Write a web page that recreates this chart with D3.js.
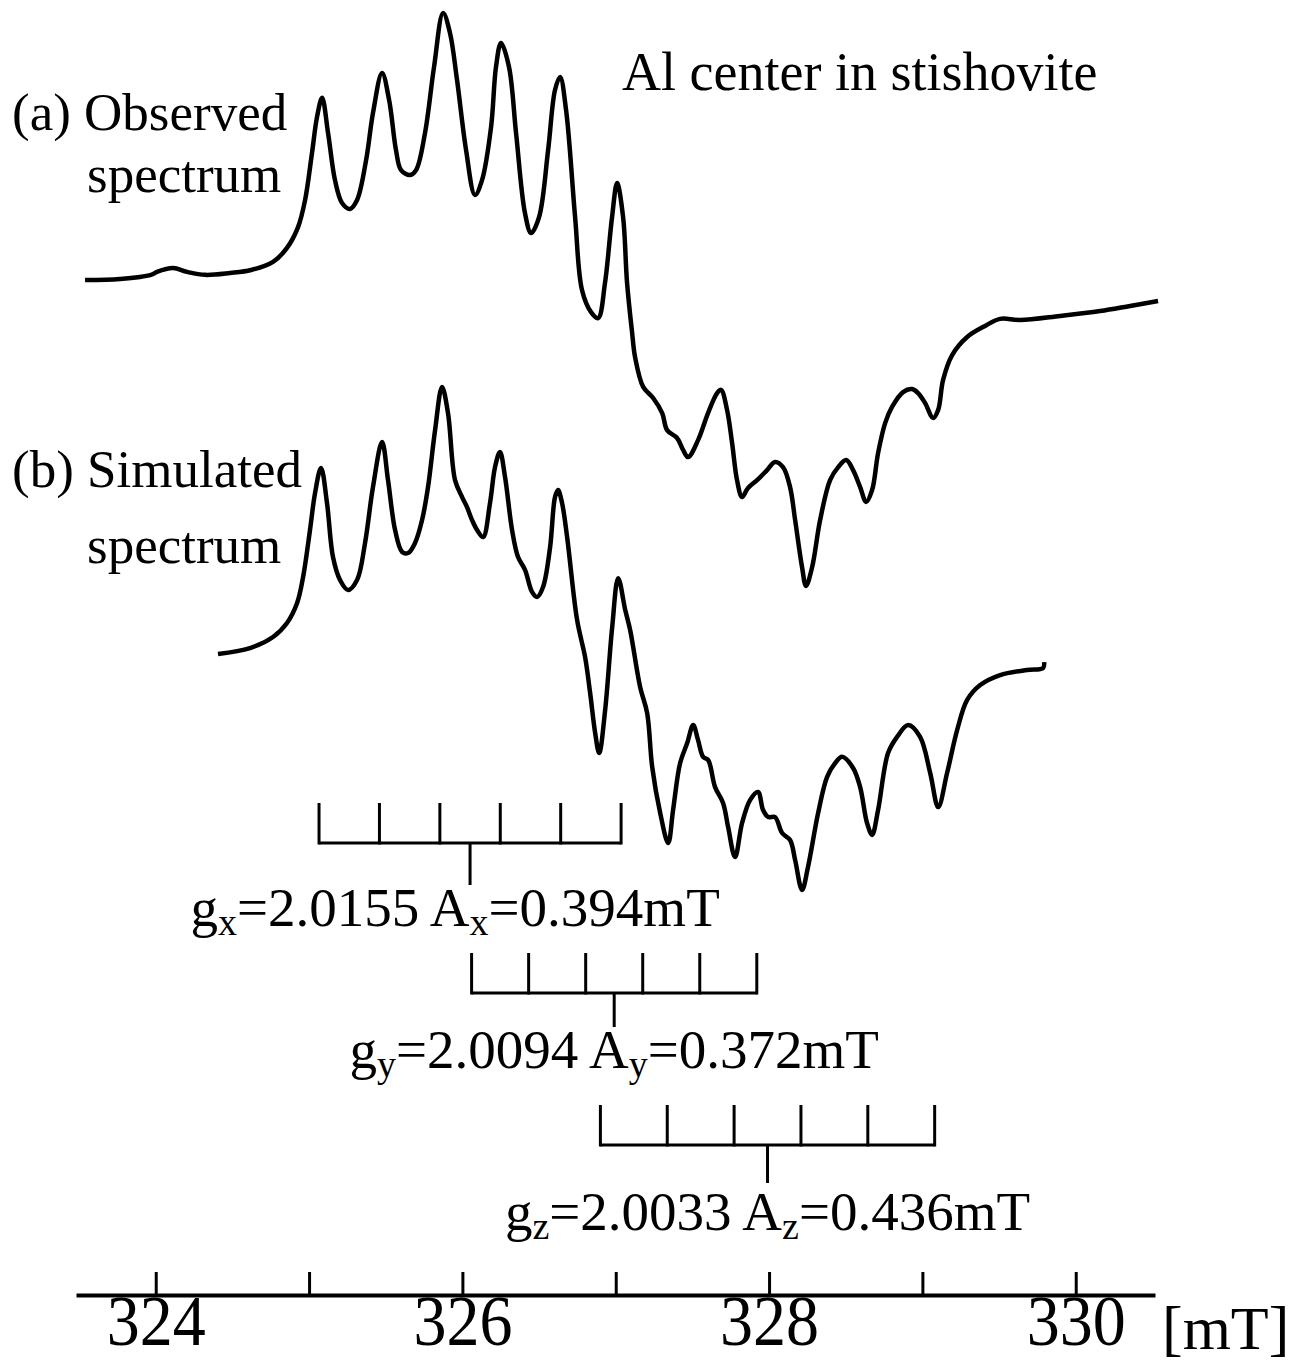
<!DOCTYPE html>
<html>
<head>
<meta charset="utf-8">
<script src="https://cdn.jsdelivr.net/npm/d3@7"></script>
<style>
  body { margin: 0; background: #fff; }
  text { font-family: "Liberation Serif", "Times New Roman", serif; fill: #000; }
</style>
</head>
<body>
<div id="chart"></div>
<script>
// field axis (mT)
const axisTicks = [324, 325, 326, 327, 328, 329, 330];

// (a) observed spectrum: field [mT], intensity [a.u.]
const obsField = [323.539, 323.767, 323.969, 324.008, 324.113, 324.204, 324.322, 324.485, 324.622, 324.765,
  324.856, 324.928, 324.974, 325.019, 325.052, 325.085, 325.124, 325.169, 325.215, 325.267,
  325.313, 325.372, 325.417, 325.476, 325.522, 325.567, 325.600, 325.659, 325.698, 325.756,
  325.815, 325.874, 325.919, 325.965, 326.024, 326.082, 326.128, 326.187, 326.219, 326.252,
  326.304, 326.350, 326.408, 326.448, 326.500, 326.559, 326.604, 326.637, 326.676, 326.735,
  326.780, 326.839, 326.885, 326.930, 326.976, 327.009, 327.048, 327.074, 327.107, 327.126,
  327.179, 327.244, 327.303, 327.335, 327.400, 327.440, 327.472, 327.537, 327.602, 327.661,
  327.687, 327.726, 327.759, 327.791, 327.824, 327.863, 327.922, 327.987, 328.039, 328.091,
  328.137, 328.170, 328.215, 328.241, 328.281, 328.333, 328.398, 328.451, 328.503, 328.548,
  328.594, 328.633, 328.672, 328.711, 328.757, 328.802, 328.874, 328.933, 328.972, 329.018,
  329.070, 329.103, 329.135, 329.194, 329.292, 329.409, 329.507, 329.637, 329.898, 330.159,
  330.355, 330.537];
const obsSignal = [0, 0.4, 1.9, 3.0, 4.4, 3.0, 1.9, 2.6, 3.7, 6.7,
  11.9, 19.6, 29.6, 47.0, 60.4, 67.5, 54.4, 37.0, 28.5, 26.3,
  29.6, 44.4, 61.9, 76.7, 66.7, 48.1, 40.7, 38.9, 40.7, 54.4,
  78.9, 98.9, 91.5, 74.1, 48.1, 31.5, 37.0, 56.7, 78.9, 87.8,
  78.9, 54.4, 24.8, 17.4, 23.3, 48.1, 70.4, 75.2, 63.0, 23.3,
  -3.7, -11.9, -14.1, -1.1, 23.3, 35.9, 23.3, -1.1, -19.6, -28.5,
  -39.6, -43.7, -49.3, -55.6, -58.5, -63.0, -65.6, -59.3, -49.3, -41.9,
  -40.7, -48.1, -60.4, -74.1, -80.4, -77.0, -74.1, -70.4, -67.4, -69.3,
  -76.7, -88.9, -106.3, -113.3, -106.3, -88.9, -74.1, -69.3, -66.7, -70.4,
  -76.7, -82.2, -77.8, -64.1, -53.0, -47.0, -41.5, -40.4, -41.9, -45.6,
  -51.1, -48.1, -37.0, -27.8, -21.1, -17.0, -14.4, -14.8, -13.3, -11.5,
  -9.6, -7.8];

// (b) simulated spectrum
const simField = [324.406, 324.615, 324.765, 324.856, 324.922, 324.961, 325.006, 325.039, 325.078, 325.117,
  325.156, 325.202, 325.254, 325.313, 325.365, 325.417, 325.476, 325.515, 325.561, 325.607,
  325.646, 325.691, 325.737, 325.776, 325.822, 325.867, 325.906, 325.952, 325.998, 326.030,
  326.063, 326.096, 326.135, 326.180, 326.213, 326.245, 326.278, 326.324, 326.363, 326.409,
  326.454, 326.487, 326.526, 326.572, 326.604, 326.624, 326.650, 326.683, 326.748, 326.800,
  326.833, 326.866, 326.892, 326.931, 326.977, 327.016, 327.062, 327.094, 327.159, 327.205,
  327.238, 327.290, 327.342, 327.374, 327.420, 327.466, 327.505, 327.537, 327.570, 327.603,
  327.648, 327.700, 327.733, 327.778, 327.824, 327.876, 327.928, 327.961, 327.994, 328.039,
  328.085, 328.137, 328.170, 328.215, 328.254, 328.320, 328.378, 328.431, 328.476, 328.548,
  328.594, 328.639, 328.672, 328.711, 328.776, 328.835, 328.907, 328.985, 329.051, 329.103,
  329.161, 329.227, 329.292, 329.377, 329.507, 329.683, 329.787, 329.794];
const simSignal = [0, 2.2, 6.3, 11.5, 18.9, 28.5, 45.9, 59.6, 68.9, 55.9,
  35.9, 27.4, 23.7, 27.4, 41.1, 61.9, 78.5, 64.4, 45.9, 37.8,
  37.4, 41.1, 49.6, 61.9, 83.0, 98.9, 89.3, 64.4, 58.1, 54.4,
  49.6, 45.9, 43.3, 55.9, 69.3, 74.8, 65.6, 45.9, 35.9, 31.1,
  23.0, 21.1, 24.8, 39.6, 58.1, 60.7, 55.9, 43.3, 12.6, -1.1,
  -14.4, -29.3, -36.7, -20.7, 10.0, 28.1, 16.3, 8.9, -12.2, -21.9,
  -41.9, -58.9, -70.0, -57.8, -40.4, -33.0, -26.3, -31.9, -38.1, -39.3,
  -49.3, -55.2, -64.1, -75.2, -62.6, -54.1, -51.1, -57.8, -60.4, -60.4,
  -66.3, -68.9, -76.3, -87.4, -78.9, -58.9, -45.6, -40.4, -38.1, -42.2,
  -49.3, -62.6, -67.0, -57.8, -36.7, -30.7, -26.3, -30.7, -44.1, -56.7,
  -44.1, -28.1, -17.0, -11.5, -7.8, -5.9, -5.2, -3.0];

// hyperfine stick diagrams (Al, I = 5/2 -> 6 lines)
const stickAxis = ["x", "y", "z"];
const stickG = ["2.0155", "2.0094", "2.0033"];
const stickA = [0.394, 0.372, 0.436];
const stickCenter = [326.05, 326.99, 327.99];   // mT

const width = 1300, height = 1364;

const svg = d3.select("#chart")
  .append("svg")
  .attr("width", width)
  .attr("height", height)
  .attr("viewBox", [0, 0, width, height]);

const x = d3.scaleLinear()
  .domain([323.48, 330.517])
  .range([76, 1155]);

// one vertical scale per trace, same gain
const yObs = d3.scaleLinear().domain([0, 100]).range([280, 10]);
const ySim = d3.scaleLinear().domain([0, 100]).range([654, 384]);

const obsData = obsField.map((f, i) => ({ f: f, s: obsSignal[i] }));
const simData = simField.map((f, i) => ({ f: f, s: simSignal[i] }));

const lineObs = d3.line()
  .x(d => x(d.f))
  .y(d => yObs(d.s))
  .curve(d3.curveCatmullRom.alpha(0.5));

const lineSim = d3.line()
  .x(d => x(d.f))
  .y(d => ySim(d.s))
  .curve(d3.curveCatmullRom.alpha(0.5));

svg.append("path")
  .datum(obsData)
  .attr("d", lineObs)
  .attr("fill", "none")
  .attr("stroke", "#000")
  .attr("stroke-width", 4.5)
  .attr("stroke-linejoin", "round");

svg.append("path")
  .datum(simData)
  .attr("d", lineSim)
  .attr("fill", "none")
  .attr("stroke", "#000")
  .attr("stroke-width", 4.5)
  .attr("stroke-linejoin", "round");

// field axis at the bottom, ticks pointing up
const axisY = 1295;
const gAxis = svg.append("g")
  .attr("transform", `translate(0,${axisY})`)
  .call(d3.axisBottom(x)
    .tickValues(axisTicks)
    .tickSizeInner(-23)
    .tickSizeOuter(0)
    .tickFormat(d => (d % 2 === 0 ? d : "")));

gAxis.select(".domain").attr("stroke-width", 4);
gAxis.selectAll(".tick line").attr("stroke-width", 3);
// the printed numbers are a bit tall and narrow
gAxis.selectAll(".tick text")
  .attr("y", 50 / 1.08)
  .attr("dy", 0)
  .attr("transform", "scale(1,1.08)")
  .attr("font-size", "66px")
  .attr("font-family", "Liberation Serif");

svg.append("text")
  .attr("x", 1162)
  .attr("y", 1349)
  .attr("font-size", "62px")
  .text("[mT]");

// titles / labels
svg.append("text").attr("x", 622).attr("y", 90).attr("font-size", "54px")
  .text("Al center in stishovite");
svg.append("text").attr("x", 12).attr("y", 130).attr("font-size", "53px")
  .text("(a) Observed");
svg.append("text").attr("x", 87).attr("y", 192).attr("font-size", "53px")
  .text("spectrum");
svg.append("text").attr("x", 12).attr("y", 487).attr("font-size", "53px")
  .text("(b) Simulated");
svg.append("text").attr("x", 87).attr("y", 563).attr("font-size", "53px")
  .text("spectrum");

// stick diagrams
const barY = [843, 993, 1145];
const stemEnd = [885, 1027, 1183];
const labelY = [926, 1068, 1230];
const labelDx = [-15, 0, 0];

stickAxis.forEach((ax, k) => {
  const c = stickCenter[k], a = stickA[k];
  const lines = d3.range(6).map(j => c + (j - 2.5) * a);
  const g = svg.append("g").attr("stroke", "#000").attr("stroke-width", 3);

  g.append("line")
    .attr("x1", x(lines[0])).attr("x2", x(lines[5]))
    .attr("y1", barY[k]).attr("y2", barY[k]);

  g.selectAll("line.tick")
    .data(lines)
    .enter()
    .append("line")
      .attr("class", "tick")
      .attr("x1", d => x(d)).attr("x2", d => x(d))
      .attr("y1", barY[k] - 40).attr("y2", barY[k] + 1.5);

  g.append("line")
    .attr("x1", x(c)).attr("x2", x(c))
    .attr("y1", barY[k]).attr("y2", stemEnd[k]);

  const t = svg.append("text")
    .attr("x", x(c) + labelDx[k])
    .attr("y", labelY[k])
    .attr("text-anchor", "middle")
    .attr("font-size", "55px");
  t.append("tspan").text("g");
  t.append("tspan").attr("font-size", "38px").attr("dy", 9).text(ax);
  t.append("tspan").attr("dy", -9).text("=" + stickG[k] + " A");
  t.append("tspan").attr("font-size", "38px").attr("dy", 9).text(ax);
  t.append("tspan").attr("dy", -9).text("=" + a.toFixed(3) + "mT");
});
</script>
</body>
</html>
